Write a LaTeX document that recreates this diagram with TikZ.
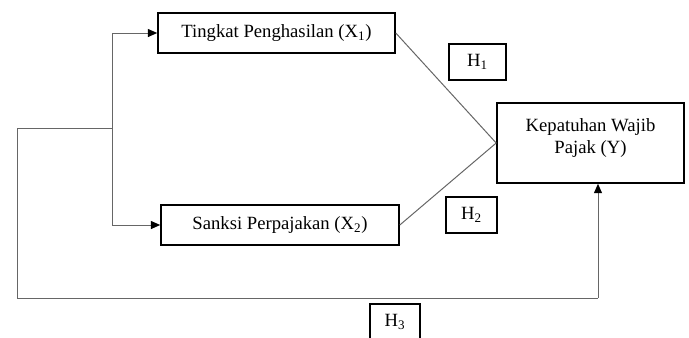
\documentclass[tikz,border=0pt]{standalone}
\usepackage{fontspec}
\setmainfont{Liberation Serif}
\usetikzlibrary{arrows.meta}
\begin{document}
\begin{tikzpicture}[x=0.75pt,y=-0.75pt,
  box/.style={draw=black,line width=1.2pt,inner sep=0pt,align=center,font=\fontsize{14}{16}\selectfont},
  hbox/.style={draw=black,line width=1.2pt,inner sep=0pt,font=\fontsize{14}{16}\selectfont},
  lbl/.style={inner sep=0pt,align=center,font=\fontsize{14}{16}\selectfont},
  conn/.style={draw=black!60,line width=0.75pt},
  arr/.style={conn,-{Triangle[length=7pt,width=6pt,fill=black,color=black]}}]
\useasboundingbox (0,0) rectangle (689,337);
\node[box,minimum width=237*0.75pt,minimum height=40*0.75pt] (x1) at (276.5,33) {Tingkat Penghasilan (X\textsubscript{1})};
\node[box,minimum width=238*0.75pt,minimum height=40*0.75pt] (x2) at (280,225) {Sanksi Perpajakan (X\textsubscript{2})};
\node[box,minimum width=187*0.75pt,minimum height=80*0.75pt] (y) at (590.5,143) {};
\node[lbl] (yt) at (590.5,138) {Kepatuhan Wajib\\Pajak (Y)};
\node[hbox,minimum width=57*0.75pt,minimum height=36*0.75pt] (h1) at (477.5,62) {H\textsubscript{1}};
\node[hbox,minimum width=51*0.75pt,minimum height=36*0.75pt] (h2) at (471.5,215) {H\textsubscript{2}};
\node[hbox,minimum width=50*0.75pt,minimum height=36*0.75pt] (h3) at (395,322) {H\textsubscript{3}};
\coordinate (j) at (112,128);
\coordinate (l) at (17,128);
\coordinate (bl) at (17,298);
\coordinate (br) at (598,298);
\draw[arr] (j) |- (x1.west);
\draw[arr] (j) |- (x2.west);
\draw[conn] (j) -- (l) -- (bl) -- (br);
\draw[arr] (br) -- (br |- y.south);
\draw[conn] (x1.east) -- (y.west);
\draw[conn] (x2.east) -- (y.west);
\end{tikzpicture}
\end{document}
